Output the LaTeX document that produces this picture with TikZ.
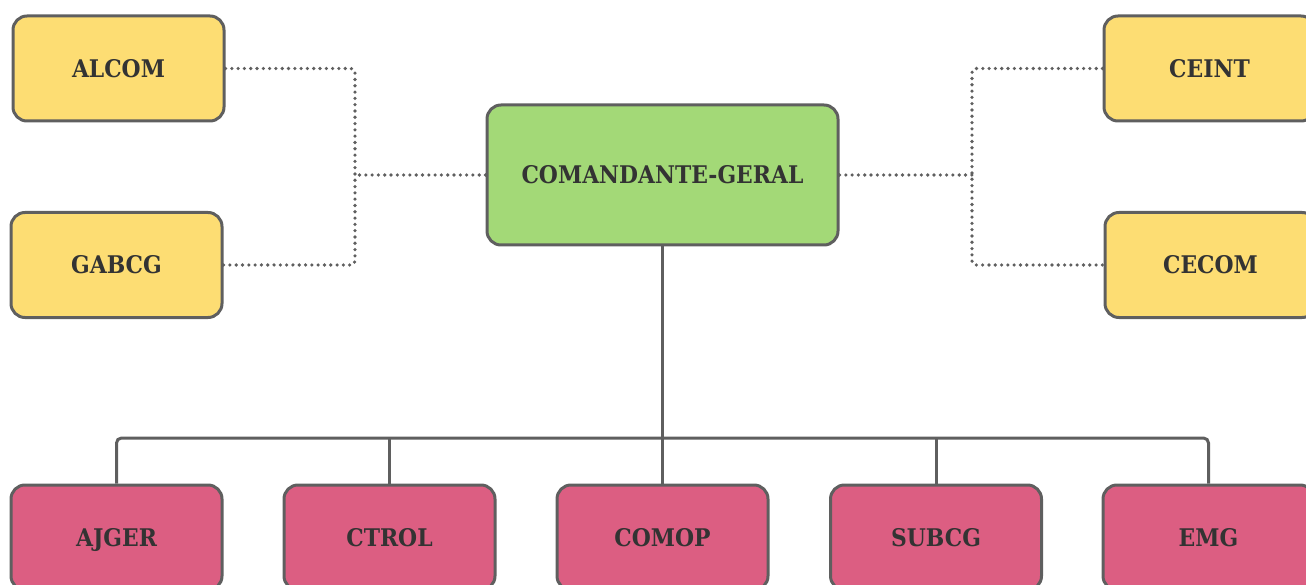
\documentclass[tikz,border=0pt]{standalone}
\usepackage{fontspec}
\setmainfont{DejaVu Serif Condensed}
\definecolor{cyel}{HTML}{FDDD73}
\definecolor{cgrn}{HTML}{A3D977}
\definecolor{cpink}{HTML}{DC5E82}
\definecolor{cline}{HTML}{5F5F5F}
\definecolor{ctext}{HTML}{333333}
\tikzset{
  box/.style={draw=cline, line width=3pt, rounded corners=14pt, minimum width=211pt, minimum height=105pt, inner sep=0pt, text=ctext, text height=17.5pt, text depth=0pt, font=\fontsize{24.3}{29}\selectfont\bfseries},
  yel/.style={box, fill=cyel},
  pink/.style={box, fill=cpink},
  grn/.style={box, fill=cgrn, minimum width=351pt, minimum height=140pt},
  dotline/.style={draw=cline, line width=3.6pt, line cap=round, dash pattern=on 0pt off 6.3pt, rounded corners=4pt},
  solidline/.style={draw=cline, line width=3pt, rounded corners=5pt}
}
\begin{document}
\begin{tikzpicture}[x=1pt,y=-1pt]
\useasboundingbox (0,0) rectangle (1306,585);
\clip (0,0) rectangle (1306,585);
\node[yel] (alcom) at (118.5,68.5) {ALCOM};
\node[yel] (gabcg) at (116.5,265) {GABCG};
\node[grn] (cg) at (662.5,175) {COMANDANTE-GERAL};
\node[yel] (ceint) at (1209.5,68.5) {CEINT};
\node[yel] (cecom) at (1210.5,265) {CECOM};
\node[pink] (ajger) at (116.5,537.5) {AJGER};
\node[pink] (ctrol) at (389.5,537.5) {CTROL};
\node[pink] (comop) at (662.5,537.5) {COMOP};
\node[pink] (subcg) at (936,537.5) {SUBCG};
\node[pink] (emg) at (1208.5,537.5) {EMG};
\coordinate (jl) at (355,175);
\coordinate (jr) at (972,175);
\coordinate (jb) at (663,438);
\draw[dotline] (alcom.east) -| (jl) |- (gabcg.east);
\draw[dotline] (cg.west) -- (jl);
\draw[dotline] (ceint.west) -| (jr) |- (cecom.west);
\draw[dotline] (cg.east) -- (jr);
\draw[solidline] (cg.south) -- (comop.north);
\draw[solidline] (ajger.north) |- (jb) -| (emg.north);
\draw[solidline] (ctrol.north) -- (ctrol.north |- jb);
\draw[solidline] (subcg.north) -- (subcg.north |- jb);
\end{tikzpicture}
\end{document}
